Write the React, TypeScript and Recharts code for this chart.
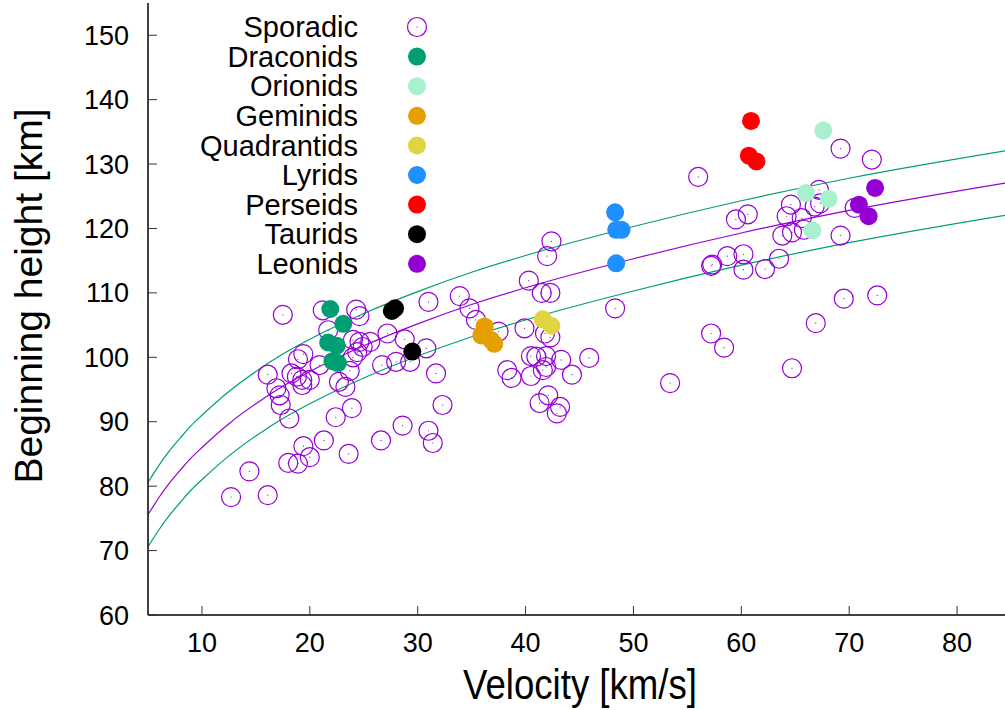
import { ComposedChart, Line, Scatter, XAxis, YAxis } from 'recharts';

type Pt = { v: number; h: number };

const xTicks = [10, 20, 30, 40, 50, 60, 70, 80];
const yTicks = [60, 70, 80, 90, 100, 110, 120, 130, 140, 150];

// fit curves at a few velocities
const curveVel = [5, 5.5, 6, 7, 8, 9, 10, 12.5, 15, 17.5, 20, 25, 30, 35, 40, 50, 60, 70, 85];
const upperFit = [80.6, 81.9, 83.2, 85.5, 87.5, 89.4, 91.0, 94.7, 97.8, 100.5, 102.8, 106.8, 110.2, 113.2, 115.8, 120.3, 124.3, 127.8, 132.2];
const middleFit = [75.6, 76.9, 78.2, 80.5, 82.5, 84.4, 86.0, 89.7, 92.8, 95.5, 97.8, 101.8, 105.2, 108.2, 110.8, 115.3, 119.3, 122.8, 127.2];
const lowerFit = [70.6, 71.9, 73.2, 75.5, 77.5, 79.4, 81.0, 84.7, 87.8, 90.5, 92.8, 96.8, 100.2, 103.2, 105.8, 110.3, 114.3, 117.8, 122.2];

const sporadic: Pt[] = [
  { v: 17.5, h: 106.6 }, { v: 21.2, h: 107.3 }, { v: 24.3, h: 107.4 }, { v: 24.6, h: 106.4 },
  { v: 21.7, h: 104.2 }, { v: 24.0, h: 102.7 }, { v: 24.6, h: 102.4 }, { v: 25.6, h: 102.4 },
  { v: 24.9, h: 101.6 }, { v: 24.4, h: 100.8 }, { v: 24.0, h: 100.0 }, { v: 27.2, h: 103.7 },
  { v: 28.8, h: 102.8 }, { v: 31.0, h: 108.6 }, { v: 19.4, h: 100.5 }, { v: 18.9, h: 99.7 },
  { v: 20.9, h: 98.8 }, { v: 16.1, h: 97.3 }, { v: 16.9, h: 95.2 }, { v: 17.2, h: 94.1 },
  { v: 17.3, h: 92.6 }, { v: 18.1, h: 90.5 }, { v: 18.3, h: 97.5 }, { v: 18.8, h: 97.0 },
  { v: 19.3, h: 96.5 }, { v: 19.3, h: 95.7 }, { v: 20.0, h: 96.5 }, { v: 22.7, h: 96.2 },
  { v: 23.3, h: 95.4 }, { v: 23.7, h: 97.9 }, { v: 26.7, h: 98.8 }, { v: 28.0, h: 99.3 },
  { v: 29.3, h: 99.3 }, { v: 30.8, h: 101.4 }, { v: 31.7, h: 97.5 }, { v: 32.3, h: 92.6 },
  { v: 23.9, h: 92.1 }, { v: 22.4, h: 90.7 }, { v: 28.6, h: 89.4 }, { v: 31.0, h: 88.6 },
  { v: 31.4, h: 86.7 }, { v: 21.3, h: 87.1 }, { v: 19.4, h: 86.2 }, { v: 20.0, h: 84.5 },
  { v: 18.0, h: 83.6 }, { v: 18.9, h: 83.5 }, { v: 23.6, h: 85.0 }, { v: 26.6, h: 87.1 },
  { v: 14.4, h: 82.3 }, { v: 12.7, h: 78.3 }, { v: 16.1, h: 78.6 },
  { v: 33.9, h: 109.5 }, { v: 34.8, h: 107.6 }, { v: 35.4, h: 105.8 }, { v: 37.5, h: 104.0 },
  { v: 42.4, h: 118.0 }, { v: 42.0, h: 115.7 }, { v: 40.3, h: 111.9 }, { v: 41.5, h: 110.0 },
  { v: 42.3, h: 110.0 }, { v: 48.3, h: 107.6 }, { v: 39.9, h: 104.5 }, { v: 41.8, h: 103.7 },
  { v: 42.3, h: 103.1 }, { v: 40.5, h: 100.2 }, { v: 41.0, h: 100.1 }, { v: 41.9, h: 100.2 },
  { v: 43.3, h: 99.6 }, { v: 45.9, h: 99.9 }, { v: 38.3, h: 98.0 }, { v: 38.7, h: 96.8 },
  { v: 40.5, h: 97.1 }, { v: 41.6, h: 98.0 }, { v: 41.9, h: 98.5 }, { v: 44.3, h: 97.3 },
  { v: 53.4, h: 96.0 }, { v: 42.1, h: 94.1 }, { v: 41.3, h: 92.9 }, { v: 43.2, h: 92.3 },
  { v: 42.9, h: 91.3 },
  { v: 56.0, h: 128.0 }, { v: 69.2, h: 132.4 }, { v: 72.1, h: 130.7 }, { v: 59.5, h: 121.4 },
  { v: 60.6, h: 122.2 }, { v: 64.6, h: 123.7 }, { v: 64.2, h: 121.9 }, { v: 65.6, h: 121.6 },
  { v: 67.2, h: 126.0 }, { v: 67.3, h: 123.9 }, { v: 66.8, h: 123.4 }, { v: 70.5, h: 123.2 },
  { v: 63.8, h: 118.9 }, { v: 64.7, h: 119.4 }, { v: 65.8, h: 119.8 }, { v: 69.2, h: 118.9 },
  { v: 57.2, h: 114.2 }, { v: 57.3, h: 114.4 }, { v: 58.7, h: 115.7 }, { v: 60.2, h: 116.0 },
  { v: 60.2, h: 113.6 }, { v: 62.2, h: 113.7 }, { v: 63.5, h: 115.3 }, { v: 69.5, h: 109.1 },
  { v: 72.6, h: 109.6 }, { v: 66.9, h: 105.3 }, { v: 57.2, h: 103.7 }, { v: 58.4, h: 101.5 },
  { v: 64.7, h: 98.3 },
];

const draconids: Pt[] = [
  { v: 21.9, h: 107.5 }, { v: 23.1, h: 105.2 }, { v: 21.7, h: 102.3 },
  { v: 22.5, h: 101.8 }, { v: 22.1, h: 99.4 }, { v: 22.6, h: 99.1 },
];
const orionids: Pt[] = [{ v: 67.6, h: 135.2 }, { v: 66.0, h: 125.5 }, { v: 68.1, h: 124.6 }, { v: 66.6, h: 119.7 }];
const geminids: Pt[] = [{ v: 36.2, h: 104.8 }, { v: 35.9, h: 103.4 }, { v: 36.8, h: 102.7 }, { v: 37.1, h: 102.1 }];
const quadrantids: Pt[] = [{ v: 41.6, h: 105.9 }, { v: 42.4, h: 104.9 }];
const lyrids: Pt[] = [{ v: 48.3, h: 122.5 }, { v: 48.4, h: 119.8 }, { v: 48.9, h: 119.8 }, { v: 48.4, h: 114.6 }];
const perseids: Pt[] = [{ v: 60.9, h: 136.7 }, { v: 60.7, h: 131.3 }, { v: 61.4, h: 130.4 }];
const taurids: Pt[] = [{ v: 27.9, h: 107.6 }, { v: 27.6, h: 107.2 }, { v: 29.5, h: 100.9 }];
const leonids: Pt[] = [{ v: 72.4, h: 126.3 }, { v: 70.9, h: 123.7 }, { v: 71.8, h: 121.9 }];

const SPORADIC_COLOR = '#9400d3';
const showers = [
  { name: 'Draconids', color: '#009e73', data: draconids },
  { name: 'Orionids', color: '#a8f0d0', data: orionids },
  { name: 'Geminids', color: '#e69f00', data: geminids },
  { name: 'Quadrantids', color: '#e0d442', data: quadrantids },
  { name: 'Lyrids', color: '#1e90ff', data: lyrids },
  { name: 'Perseids', color: '#ff0000', data: perseids },
  { name: 'Taurids', color: '#000000', data: taurids },
  { name: 'Leonids', color: '#9400d3', data: leonids },
];

const curves = [
  { key: 'upper', color: '#009e73', data: curveVel.map((v, i) => ({ v, h: upperFit[i] })) },
  { key: 'middle', color: '#9400d3', data: curveVel.map((v, i) => ({ v, h: middleFit[i] })) },
  { key: 'lower', color: '#009e73', data: curveVel.map((v, i) => ({ v, h: lowerFit[i] })) },
];

const FONT = '"Liberation Sans", Arial, Helvetica, sans-serif';
const TICK_LEN = 9;
const X_MARGIN = 18;
const Y_MARGIN = 19;

// gnuplot style: ticks point into the plot
const BottomTick = ({ x, y, payload }: any) => (
  <g>
    <line x1={x} x2={x} y1={y - X_MARGIN} y2={y - X_MARGIN - TICK_LEN} stroke="#333" strokeWidth={1} />
    <text x={x} y={y} dy="0.71em" textAnchor="middle" fontSize={27} fontFamily={FONT} fill="#000">{payload.value}</text>
  </g>
);
const LeftTick = ({ x, y, payload }: any) => (
  <g>
    <line x1={x + Y_MARGIN} x2={x + Y_MARGIN + TICK_LEN} y1={y} y2={y} stroke="#333" strokeWidth={1} />
    <text x={x} y={y} dy="0.355em" textAnchor="end" fontSize={27} fontFamily={FONT} fill="#000">{payload.value}</text>
  </g>
);
const TopTick = ({ x, y }: any) => <line x1={x} x2={x} y1={y} y2={y + TICK_LEN} stroke="#333" strokeWidth={1} />;
const RightTick = ({ x, y }: any) => <line x1={x} x2={x - TICK_LEN} y1={y} y2={y} stroke="#333" strokeWidth={1} />;

const Ring = (p: any) => (
  <g>
    <circle cx={p.cx} cy={p.cy} r={9.5} fill="none" stroke={SPORADIC_COLOR} strokeWidth={1.2} />
    <circle cx={p.cx} cy={p.cy} r={0.6} fill={SPORADIC_COLOR} />
  </g>
);
const disc = (color: string) => (p: any) => <circle cx={p.cx} cy={p.cy} r={9} fill={color} />;

const axisLine = { stroke: '#000', strokeWidth: 1.5 };

export default function App() {
  const legendRows = [{ name: 'Sporadic', color: SPORADIC_COLOR }, ...showers];
  return (
    <div style={{ position: 'absolute', left: 0, top: 0, width: 1005, height: 710, overflow: 'hidden', background: '#fff' }}>
      <ComposedChart width={1020} height={710} margin={{ top: 3, right: 9, bottom: 0, left: 48 }}>
        <XAxis type="number" dataKey="v" domain={[5, 85]} ticks={xTicks} interval={0} allowDataOverflow
          height={95} tickSize={0} tickMargin={X_MARGIN} tickLine={false} axisLine={axisLine} tick={<BottomTick />} />
        <XAxis xAxisId="top" orientation="top" type="number" dataKey="v" domain={[5, 85]} ticks={xTicks} interval={0} allowDataOverflow
          height={0} tickSize={0} tickMargin={0} tickLine={false} axisLine={axisLine} tick={<TopTick />} />
        <YAxis type="number" dataKey="h" domain={[60, 155]} ticks={yTicks} interval={0} allowDataOverflow
          width={100} tickSize={0} tickMargin={Y_MARGIN} tickLine={false} axisLine={axisLine} tick={<LeftTick />} />
        <YAxis yAxisId="right" orientation="right" type="number" dataKey="h" domain={[60, 155]} ticks={yTicks} interval={0} allowDataOverflow
          width={0} tickSize={0} tickMargin={0} tickLine={false} axisLine={axisLine} tick={<RightTick />} />

        {curves.map((c) => (
          <Line key={c.key} data={c.data} dataKey="h" type="monotone" stroke={c.color} strokeWidth={1.2}
            dot={false} activeDot={false} isAnimationActive={false} />
        ))}

        <Scatter name="Sporadic" data={sporadic} shape={Ring} isAnimationActive={false} />
        {showers.map((s) => (
          <Scatter key={s.name} name={s.name} data={s.data} shape={disc(s.color)} isAnimationActive={false} />
        ))}
      </ComposedChart>

      <svg width={1005} height={710} style={{ position: 'absolute', left: 0, top: 0, pointerEvents: 'none' }}>
        {legendRows.map((r, i) => (
          <g key={r.name}>
            <text x={358} y={27 + i * 29.6} dy="0.35em" textAnchor="end" fontSize={29} fontFamily={FONT} fill="#000">{r.name}</text>
            {r.name === 'Sporadic' ? (
              <Ring cx={417} cy={27 + i * 29.6} />
            ) : (
              <circle cx={417} cy={27 + i * 29.6} r={9} fill={r.color} />
            )}
          </g>
        ))}
        <text transform="rotate(-90)" x={-296} y={42} textAnchor="middle" fontSize={39} fontFamily={FONT} fill="#000">
          Beginning height [km]
        </text>
        <text x={580} y={699} textAnchor="middle" fontSize={42} fontFamily={FONT} fill="#000"
          textLength={234} lengthAdjust="spacingAndGlyphs">
          Velocity [km/s]
        </text>
      </svg>
    </div>
  );
}
